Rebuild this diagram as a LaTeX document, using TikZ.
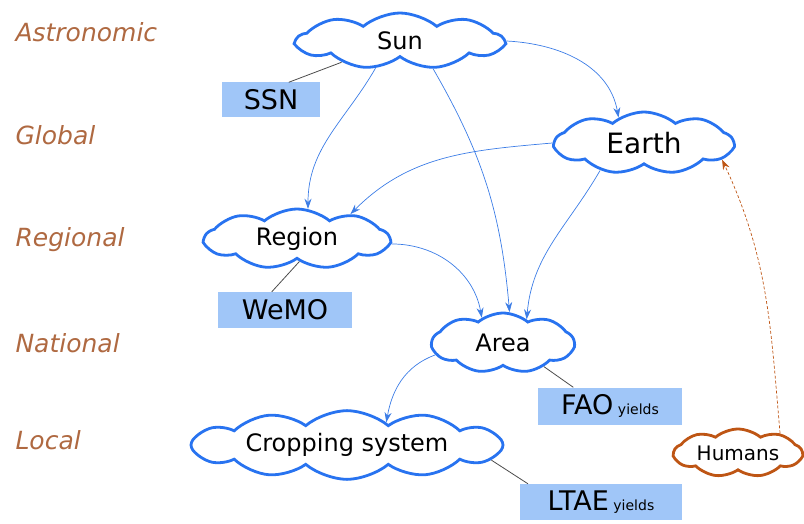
\documentclass[tikz,border=0pt]{standalone}
\usepackage{fontspec}
\setmainfont{DejaVu Sans}
\usetikzlibrary{arrows.meta, shapes.symbols, topaths}
\definecolor{cloudblue}{RGB}{40,115,240}
\definecolor{arrowblue}{RGB}{60,125,230}
\definecolor{levelbrown}{RGB}{175,105,65}
\definecolor{humanbrown}{RGB}{190,85,20}
\definecolor{boxblue}{RGB}{160,198,248}

\begin{document}
\begin{tikzpicture}[x=1pt, y=-1pt,
  level/.style={anchor=west, text=levelbrown, font=\fontsize{25}{28}\selectfont\itshape},
  topic/.style={shape=cloud, cloud puffs=9, cloud puff arc=80, cloud ignores aspect, draw=cloudblue, line width=2.8pt, fill=white, font=\fontsize{24}{28}\selectfont},
  source/.style={fill=boxblue, inner sep=0pt, font=\fontsize{27}{30}\selectfont},
  link/.style={draw=black!70, line width=0.8pt},
  flow/.style={-{Stealth[length=10pt, width=7pt]}, arrowblue, line width=0.7pt}]

  \useasboundingbox (0,0) rectangle (804,524);

  % levels
  \node[level] (astro) at (12,32) {Astronomic};
  \node[level] (global) at (12,135) {Global};
  \node[level] (regional) at (12,240) {Regional};
  \node[level] (national) at (12,343) {National};
  \node[level] (local) at (12,440) {Local};

  % clouds
  \node[topic, minimum width=206, minimum height=56] (sun) at (400,41) {Sun};
  \node[topic, minimum width=178, minimum height=62, font=\fontsize{28}{32}\selectfont] (earth) at (644,143) {Earth};
  \node[topic, minimum width=184, minimum height=60] (region) at (297,239) {Region};
  \node[topic, minimum width=142, minimum height=60] (area) at (503,343) {Area};
  \node[topic, minimum width=312, minimum height=52, cloud puffs=12] (crop) at (347,445) {Cropping system};
  \node[topic, minimum width=128, minimum height=48, draw=humanbrown, font=\fontsize{20}{24}\selectfont] (humans) at (738,453) {Humans};

  % data sources
  \node[source, minimum width=98, minimum height=35] (ssn) at (271,100) {SSN};
  \node[source, minimum width=134, minimum height=36] (wemo) at (285,310) {WeMO};
  \node[source, minimum width=144, minimum height=37] (fao) at (610,406) {FAO\,{\fontsize{14}{16}\selectfont yields}};
  \node[source, minimum width=162, minimum height=36] (ltae) at (601,502) {LTAE\,{\fontsize{14}{16}\selectfont yields}};

  \draw[link] (ssn.45) -- (sun.200);
  \draw[link] (wemo.126) -- (region.276);
  \draw[link] (fao.153) -- (area.330);
  \draw[link] (ltae.166) -- (crop.354);

  % influences
  \draw[flow] (sun.east) to[out=-3, in=100] (earth.135);
  \draw[flow] (sun.228) to[out=240, in=90] (region.70);
  \draw[flow] (sun.-40) to[out=-60, in=95] (area.78);
  \draw[flow] (earth.west) to[out=185, in=45] (region.25);
  \draw[flow] (earth.212) to[out=-120, in=85] (area.45);
  \draw[flow] (region.-3) to[out=0, in=100] (area.130);
  \draw[flow] (area.190) to[out=200, in=80] (crop.30);
  \draw[-{Stealth[length=10pt, width=7pt]}, humanbrown, densely dashed, line width=0.7pt] (humans.25) to[out=95, in=-65] (earth.-12);
\end{tikzpicture}
\end{document}
